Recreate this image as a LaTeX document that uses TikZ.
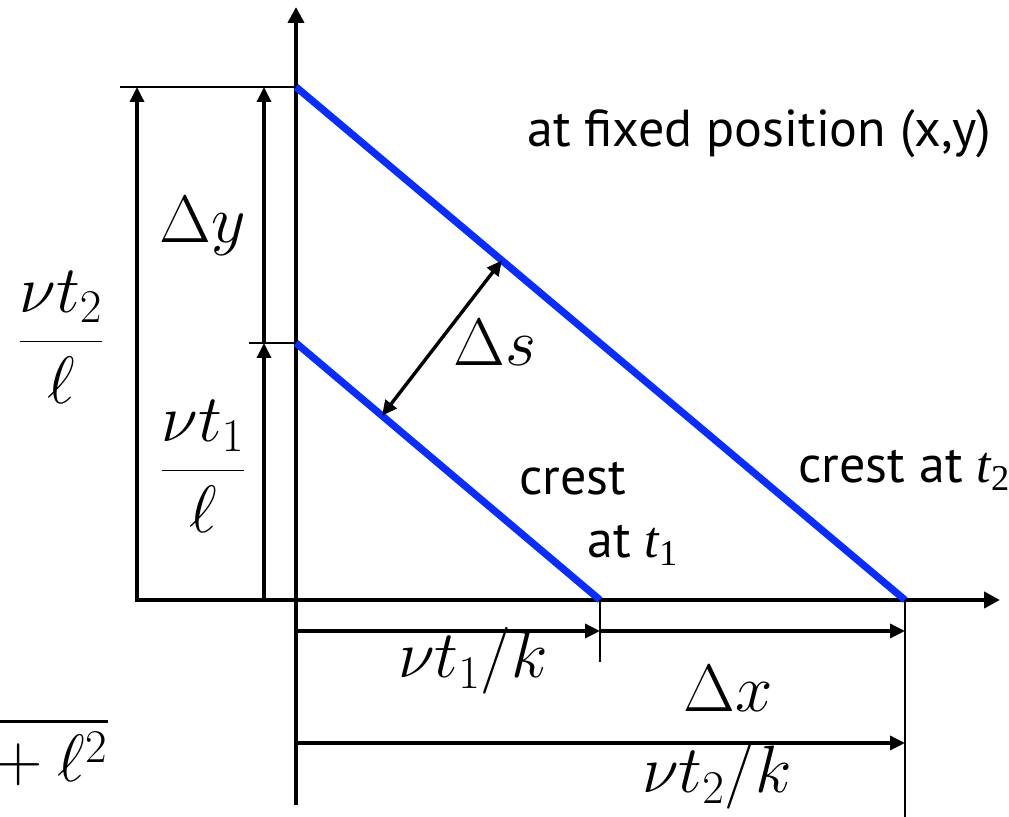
\RequirePackage{fix-cm}
\documentclass[tikz,border=0pt]{standalone}
\usepackage{fontspec}
\usetikzlibrary{arrows.meta,positioning,calc}

\newfontfamily\sansfnt{PT Sans}
\newfontfamily\timesfnt{Liberation Serif}
\definecolor{crestblue}{RGB}{10,45,255}
\newcommand\mathsz{\fontsize{33.5}{40}\selectfont}
\newcommand\crestfnt{\sansfnt\fontsize{26}{32}\selectfont}
\newcommand\tsub[1]{{\timesfnt\itshape t}\textsubscript{\timesfnt #1}}

\begin{document}
\begin{tikzpicture}[
    x=0.5pt, y=-0.5pt,
    axisline/.style = {line width=2.4pt, -{Triangle[length=8pt,width=8pt]}},
    crest/.style = {line width=3.6pt, draw=crestblue},
    dimarrow/.style = {line width=1.7pt, -{Triangle[length=7.5pt,width=7pt]}},
    guide/.style = {line width=1pt},
    mlabel/.style = {font=\mathsz, inner sep=0pt, anchor=base},
    tlabel/.style = {font=\crestfnt, inner sep=0pt, anchor=base west}
]
    \clip (0,0) rectangle (1009,817);
    \useasboundingbox (0,0) rectangle (1009,817);

    % --- Axes ---
    \coordinate (O) at (296,600);
    \coordinate (ytop) at (296,7);
    \coordinate (ybot) at (296,805);
    \coordinate (xleft) at (135,600);
    \coordinate (xright) at (1000,600);
    \draw[axisline] (ybot) -- (ytop);
    \draw[axisline] (xleft) -- (xright);

    % --- Crests ---
    \coordinate (A1) at (296,343);
    \coordinate (B1) at (600,600);
    \coordinate (A2) at (296,87);
    \coordinate (B2) at (905,600);
    \draw[crest] (A1) -- (B1);
    \draw[crest] (A2) -- (B2);

    % --- Vertical dimensions ---
    \coordinate (T2) at (120,87);
    \coordinate (T1) at (249,343);
    \draw[guide] (T2) -- (A2);
    \draw[guide] (T1) -- (A1);
    \coordinate (L0) at (137,600);
    \coordinate (L2) at (137,87);
    \coordinate (M0) at (264,600);
    \coordinate (M1) at (264,343);
    \coordinate (M2) at (264,87);
    \draw[dimarrow] (L0) -- (L2);
    \draw[dimarrow] (M0) -- (M1);
    \draw[dimarrow] (M1) -- (M2);

    % --- Horizontal dimensions ---
    \coordinate (B1low) at (600,662);
    \coordinate (B2low) at (905,817);
    \draw[guide] (B1) -- (B1low);
    \draw[guide] (B2) -- (B2low);
    \coordinate (P0) at (296,631);
    \coordinate (P1) at (600,631);
    \coordinate (P2) at (905,631);
    \coordinate (Q0) at (296,743);
    \coordinate (Q2) at (905,743);
    \draw[dimarrow] (P0) -- (P1);
    \draw[dimarrow] (P1) -- (P2);
    \draw[dimarrow] (Q0) -- (Q2);

    % --- Spacing between crests ---
    \coordinate (S1) at ($(A1)!0.283!(B1)$);
    \coordinate (S2) at ($(A2)!0.338!(B2)$);
    \draw[dimarrow, {Triangle[length=7.5pt,width=7pt]}-{Triangle[length=7.5pt,width=7pt]}] (S1) -- (S2);

    % --- Labels ---
    \node[mlabel] (dy) at (203,243) {$\Delta y$};
    \node[mlabel, anchor=base west] (ds) at (453,366) {$\Delta s$};
    \node[mlabel] (h2) at (61,358) {$\displaystyle\frac{\nu t_2}{\ell}$};
    \node[mlabel] (h1) at (203,487) {$\displaystyle\frac{\nu t_1}{\ell}$};
    \node[mlabel] (w1) at (473,678) {$\nu t_1/k$};
    \node[mlabel] (dx) at (728,712) {$\Delta x$};
    \node[mlabel] (w2) at (717,793) {$\nu t_2/k$};
    \node[mlabel, anchor=base east] (root) at (108,782) {$\displaystyle\sqrt{\hphantom{k^2}+\ell^2}$};

    \node[tlabel] (fixed) at (527,147) {at fixed position (x,y)};
    \node[tlabel] (c1) at (519,495) {crest};
    \node[tlabel] (c1t) at (587,558) {at \tsub{1}};
    \node[tlabel] (c2) at (798,483) {crest at \tsub{2}};
\end{tikzpicture}
\end{document}
